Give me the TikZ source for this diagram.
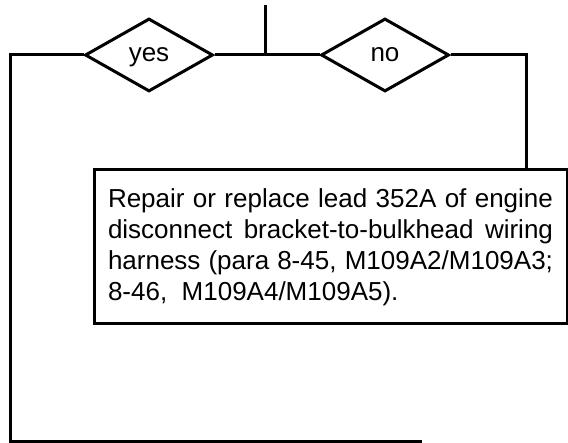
\documentclass[tikz,border=0pt]{standalone}
\usepackage{fontspec}
\setmainfont{Liberation Sans}
\usetikzlibrary{shapes.geometric,positioning}
\definecolor{ink}{HTML}{000000}
\tikzset{
  wireline/.style={draw=ink,line width=3pt},
  choicebox/.style={diamond,draw=ink,line width=3pt,minimum width=128pt,minimum height=73pt,inner sep=0pt,text depth=0pt,font=\fontsize{26}{31}\selectfont},
  actionbox/.style={rectangle,draw=ink,line width=3pt,minimum width=473pt,minimum height=154pt,text width=445pt,align=justify,inner xsep=14pt,font=\fontsize{26}{31}\selectfont}
}
\begin{document}
\begin{tikzpicture}[x=1pt,y=-1pt]
  \useasboundingbox (0,0) rectangle (568,443);
  % decisions
  \node[choicebox] (yes) at (149,55) {yes};
  \node[choicebox] (no) at (385,55) {no};
  \node[actionbox] (repair) at (330.5,247)
    {Repair or replace lead 352A of engine\linebreak disconnect bracket-to-bulkhead wiring\linebreak harness (para 8-45, M109A2/M109A3;\linebreak 8-46,~~M109A4/M109A5).};
  \coordinate (entry) at (265,5);
  \coordinate (nocorner) at (526,55);
  \coordinate (yescorner) at (10,55);
  \coordinate (yesfoot) at (10,442);
  \coordinate (yesend) at (422,442);
  % connectors
  \draw[wireline] (entry) -- (entry |- yes.east);
  \draw[wireline] (yes.east) -- (no.west);
  \draw[wireline] (no.east) -- (nocorner) -- (nocorner |- repair.north);
  \draw[wireline] (yes.west) -- (yescorner) -- (yesfoot) -- (yesend);
\end{tikzpicture}
\end{document}
